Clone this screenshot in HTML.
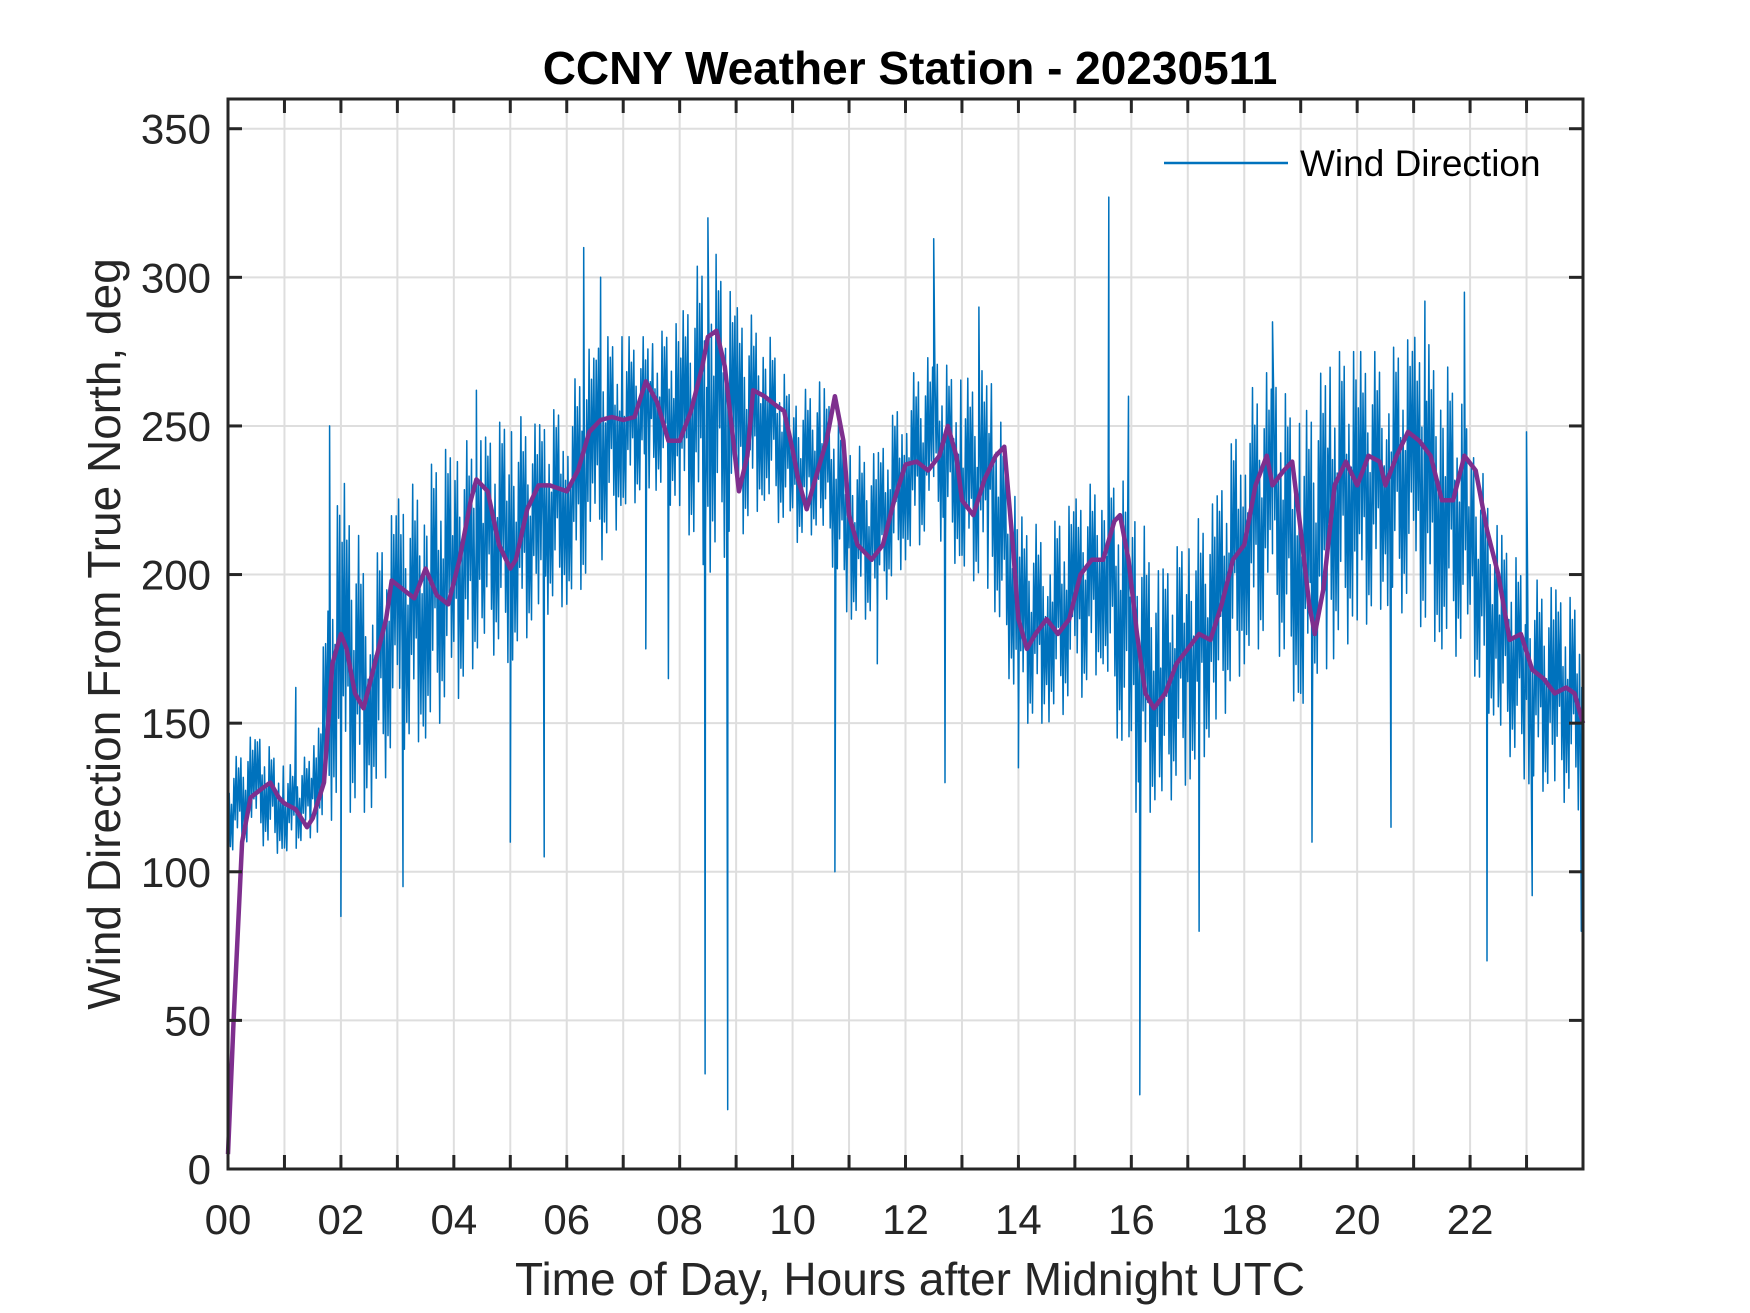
<!DOCTYPE html>
<html><head><meta charset="utf-8"><style>
html,body{margin:0;padding:0;background:#fff}
svg{display:block}
text{font-family:"Liberation Sans",Arial,sans-serif;fill:#262626}
</style></head><body>
<svg id="chart" width="1750" height="1313" viewBox="0 0 1750 1313" xmlns="http://www.w3.org/2000/svg">
<rect width="1750" height="1313" fill="#fff"/>
<g id="grid"></g>
<g id="series"></g>
<g id="axes"></g>
<text x="910" y="84" text-anchor="middle" font-size="46" font-weight="bold" style="fill:#000">CCNY Weather Station - 20230511</text>
<text x="910" y="1295" text-anchor="middle" font-size="46">Time of Day, Hours after Midnight UTC</text>
<text transform="translate(120,634) rotate(-90)" text-anchor="middle" font-size="46">Wind Direction From True North, deg</text>
<g>
<line x1="1164" y1="163" x2="1288" y2="163" stroke="#0072BD" stroke-width="2.5"/>
<text x="1300" y="176" font-size="37" style="fill:#000">Wind Direction</text>
</g>
</svg>
<script>
// Envelope of raw wind direction per half-hour bin
const binTimes = [0,0.5,1,1.5,2,2.5,3,3.5,4,4.5,5,5.5,6,6.5,7,7.5,8,8.5,9,9.5,10,10.5,11,11.5,12,12.5,13,13.5,14,14.5,15,15.5,16,16.5,17,17.5,18,18.5,19,19.5,20,20.5,21,21.5,22,22.5,23,23.5,24];
const binLow  = [105,110,105,112,120,120,140,145,155,175,170,185,190,200,220,230,220,200,210,225,210,215,185,185,205,215,200,195,150,150,155,170,120,120,130,145,170,180,150,170,180,190,185,175,170,145,130,125,120];
const binHigh = [135,148,135,140,235,200,225,235,245,245,255,250,260,280,280,280,285,315,290,285,260,265,245,240,265,275,265,270,220,215,225,235,230,200,215,225,260,270,250,275,275,275,280,275,250,215,200,195,190];
// Isolated spikes
const spikeTimes  = [1.2,1.8,2.0,3.1,4.4,5.0,5.6,6.3,6.6,7.4,7.8,8.45,8.5,8.85,10.75,11.5,12.5,12.7,13.3,14.0,15.6,15.95,16.15,17.2,18.5,19.2,20.6,21.2,21.9,22.3,23.0,23.1,23.97];
const spikeValues = [162,250,85,95,262,110,105,310,300,175,165,32,320,20,100,170,313,130,290,135,327,260,25,80,285,110,115,292,295,70,248,92,80];
// Smoothed (running mean) series
const smoothTimes = [0,0.1,0.25,0.4,0.6,0.75,0.9,1.0,1.2,1.4,1.5,1.7,1.85,2.0,2.1,2.25,2.4,2.6,2.8,2.9,3.1,3.3,3.5,3.7,3.9,4.1,4.3,4.4,4.6,4.8,5.0,5.1,5.3,5.5,5.7,6.0,6.2,6.4,6.6,6.8,7.0,7.2,7.4,7.6,7.8,8.0,8.2,8.4,8.5,8.65,8.8,8.95,9.05,9.2,9.3,9.5,9.7,9.85,10.0,10.1,10.25,10.4,10.6,10.75,10.9,11.0,11.15,11.4,11.6,11.8,12.0,12.2,12.4,12.6,12.75,12.9,13.0,13.2,13.4,13.6,13.75,13.9,14.0,14.15,14.3,14.5,14.7,14.9,15.1,15.3,15.5,15.7,15.8,15.95,16.1,16.25,16.4,16.6,16.8,17.0,17.2,17.4,17.6,17.8,18.0,18.2,18.4,18.5,18.7,18.85,19.0,19.15,19.25,19.4,19.6,19.8,20.0,20.2,20.4,20.5,20.7,20.9,21.1,21.3,21.5,21.7,21.9,22.1,22.3,22.5,22.7,22.9,23.1,23.3,23.5,23.7,23.85,24];
const smoothValues = [5,50,110,125,128,130,125,123,121,115,118,130,170,180,175,160,155,170,185,198,195,192,202,193,190,205,225,232,228,210,202,205,222,230,230,228,235,248,252,253,252,253,265,258,245,245,255,270,280,282,270,245,228,240,262,260,257,255,242,232,222,232,245,260,245,220,210,205,210,225,237,238,235,240,250,240,225,220,232,240,243,210,185,175,180,185,180,185,200,205,205,218,220,205,180,160,155,160,170,175,180,178,190,205,210,230,240,230,235,238,215,190,180,195,230,238,230,240,238,230,240,248,245,240,225,225,240,235,215,200,178,180,168,165,160,162,160,150];
const yTicks = [0,50,100,150,200,250,300,350];
const xTickLabels = ["00","02","04","06","08","10","12","14","16","18","20","22"];

const L=228,R=1583,T=99,B=1169,XMAX=24,YMAX=360;
const sx=t=>L+(R-L)*t/XMAX;
const sy=v=>B-(B-T)*v/YMAX;
const NS="http://www.w3.org/2000/svg";
function mk(tag,attrs,parent){const e=document.createElementNS(NS,tag);for(const k in attrs)e.setAttribute(k,attrs[k]);parent.appendChild(e);return e;}
const grid=document.getElementById('grid'),series=document.getElementById('series'),axes=document.getElementById('axes');

for(let h=1;h<24;h++){const g=mk('line',{x1:sx(h),x2:sx(h),y1:T,y2:B,stroke:'#dedede','stroke-width':2},grid);

}
yTicks.forEach(v=>{if(v===0)return;const g=mk('line',{x1:L,x2:R,y1:sy(v),y2:sy(v),stroke:'#dedede','stroke-width':2},grid);

});

let pts=[];const N=24;
const mix=[0,0.3,0.1,0.45,0.05,0.2,0.35,0.0,0.25,0.15,0.4,0.08];
for(let i=0;i<binTimes.length-1;i++){
  for(let k=0;k<N;k++){
    const f=k/N,t=binTimes[i]+(binTimes[i+1]-binTimes[i])*f;
    const lo=binLow[i]+(binLow[i+1]-binLow[i])*f,hi=binHigh[i]+(binHigh[i+1]-binHigh[i])*f;
    const m=mix[(k+i)%mix.length];
    pts.push([t,k%2?hi-(hi-lo)*m:lo+(hi-lo)*m]);
    const t2=binTimes[i]+(binTimes[i+1]-binTimes[i])*(k+1)/N;
    spikeTimes.forEach((st,j)=>{if(st>=t&&st<t2)pts.push([st,spikeValues[j]]);});
  }
}
const raw=mk('polyline',{points:pts.map(p=>sx(Math.min(p[0],24)).toFixed(1)+','+sy(p[1]).toFixed(1)).join(' '),fill:'none',stroke:'#0072BD','stroke-width':1.5,'stroke-linejoin':'round'},series);


const sm=mk('polyline',{points:smoothTimes.map((t,i)=>sx(t).toFixed(1)+','+sy(smoothValues[i]).toFixed(1)).join(' '),fill:'none',stroke:'#7E2F8E','stroke-width':4.5,'stroke-linejoin':'round'},series);



const box=mk('rect',{x:L,y:T,width:R-L,height:B-T,fill:'none',stroke:'#262626','stroke-width':3},axes);


for(let h=1;h<24;h++){[[B,B-14],[T,T+14]].forEach(([a,b])=>{const tk=mk('line',{x1:sx(h),x2:sx(h),y1:a,y2:b,stroke:'#262626','stroke-width':3},axes);

});}
xTickLabels.forEach((s,i)=>{const tx=mk('text',{x:sx(i*2),y:1234,'text-anchor':'middle','font-size':42},axes);tx.textContent=s;

});
yTicks.forEach(v=>{[[L,L+14],[R,R-14]].forEach(([a,b])=>{const tk=mk('line',{x1:a,x2:b,y1:sy(v),y2:sy(v),stroke:'#262626','stroke-width':3},axes);

});
const tx=mk('text',{x:211,y:sy(v)+15,'text-anchor':'end','font-size':42},axes);tx.textContent=v;

});
</script>
</body></html>
